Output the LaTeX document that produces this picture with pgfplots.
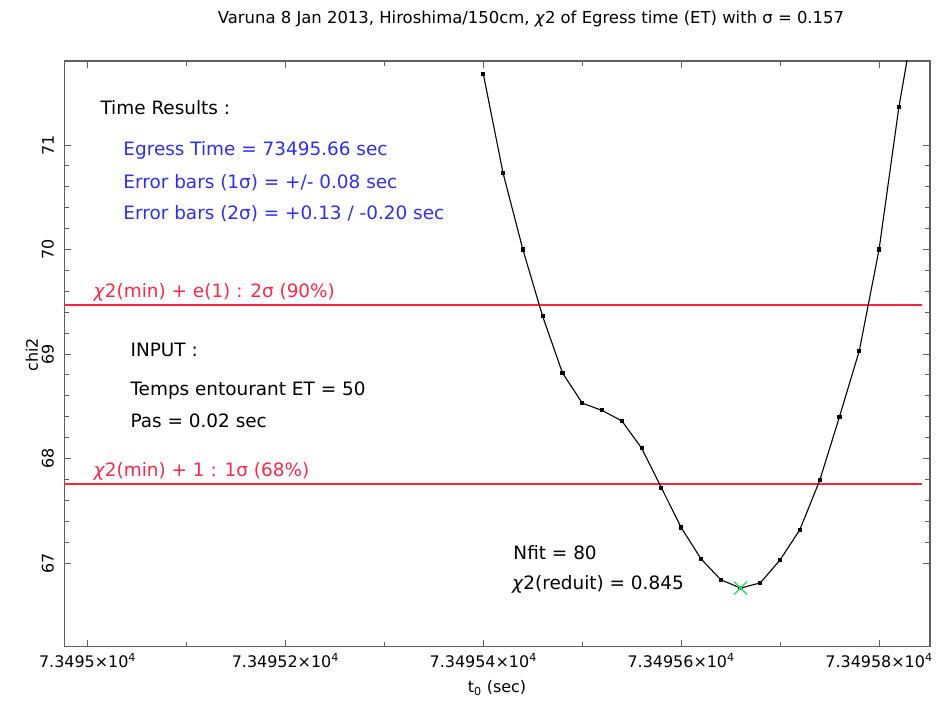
\documentclass[border=0pt]{standalone}
\usepackage{pgfplots}
\pgfplotsset{compat=1.18}
\usepackage{pgfplotstable}
\usepackage{fontspec}
\setmainfont{DejaVu Sans}
\definecolor{lred}{RGB}{255,40,70}
\definecolor{lblue}{RGB}{45,45,255}
\definecolor{lgreen}{RGB}{50,230,100}
\definecolor{axgray}{RGB}{95,95,95}
% t0 given as offset from 73495 sec
\pgfplotstableread{
dt chi
0.40 71.68
0.42 70.73
0.44 70.00
0.46 69.36
0.48 68.82
0.50 68.53
0.52 68.46
0.54 68.36
0.56 68.10
0.58 67.72
0.60 67.34
0.62 67.04
0.64 66.84
0.66 66.76
0.68 66.81
0.70 67.03
0.72 67.32
0.74 67.79
0.76 68.40
0.78 69.03
0.80 70.00
0.82 71.36
0.84 72.45
}\chidata
\pgfplotstableread{
dt chi
-0.0235 69.466
0.843 69.466
}\upperline
\pgfplotstableread{
dt chi
-0.0235 67.76
0.843 67.76
}\lowerline
\newcommand{\ann}{\fontsize{18.5}{22}\selectfont}
\begin{document}
\begin{tikzpicture}
\useasboundingbox (0,0) rectangle (945bp,712bp);
\begin{axis}[
  at={(64.3bp,65.3bp)}, anchor=south west,
  scale only axis, width=865.7bp, height=585.7bp,
  xmin=-0.0235, xmax=0.8515, ymin=66.199, ymax=71.804,
  xtick={0,0.2,0.4,0.6,0.8},
  xticklabels={7.3495×10\textsuperscript{4},7.34952×10\textsuperscript{4},7.34954×10\textsuperscript{4},7.34956×10\textsuperscript{4},7.34958×10\textsuperscript{4}},
  minor x tick num=1,
  ytick={67,68,69,70,71}, yticklabels={67,68,69,70,71},
  minor y tick num=4,
  tick align=inside,
  major tick length=7bp, minor tick length=5bp,
  axis line style={draw=axgray, line width=1.3bp},
  tick style={draw=axgray, line width=0.9bp},
  xticklabel style={font=\fontsize{16}{18}\selectfont, anchor=north},
  yticklabel style={font=\fontsize{16}{18}\selectfont, rotate=90, anchor=south},
  xticklabel shift=3bp,
  yticklabel shift=7bp,
  clip mode=individual,
]
\addplot[draw={rgb,255:red,255;green,35;blue,65}, line width=2bp, mark=none] table[x=dt, y=chi] {\upperline};
\addplot[draw={rgb,255:red,255;green,35;blue,65}, line width=2bp, mark=none] table[x=dt, y=chi] {\lowerline};
\addplot[draw=black, line width=1.1bp, mark=square*, mark size=1.5bp, mark options={fill=black}] table[x=dt, y=chi] {\chidata};
\addplot[only marks, draw={rgb,255:red,50;green,230;blue,100}, mark=x, mark size=9bp, line width=1.5bp] coordinates {(0.66,66.76)};

\node[anchor=base west, font=\ann] at (rel axis cs:0.0378,0.9095) {Time Results :};
\node[anchor=base west, font=\ann, text=lblue] at (rel axis cs:0.0643,0.8378) {Egress Time = 73495.66 sec};
\node[anchor=base west, font=\ann, text=lblue] at (rel axis cs:0.0643,0.7831) {Error bars (1σ) = +/- 0.08 sec};
\node[anchor=base west, font=\ann, text=lblue] at (rel axis cs:0.0643,0.7302) {Error bars (2σ) = +0.13 / -0.20 sec};
\node[anchor=base west, font=\ann, text=lred] at (rel axis cs:0.0297,0.5954) {\textit{χ}2(min) + e(1) : 2σ (90\%)};
\node[anchor=base west, font=\ann] at (rel axis cs:0.0725,0.4963) {INPUT :};
\node[anchor=base west, font=\ann] at (rel axis cs:0.0725,0.4281) {Temps entourant ET = 50};
\node[anchor=base west, font=\ann] at (rel axis cs:0.0725,0.3734) {Pas = 0.02 sec};
\node[anchor=base west, font=\ann, text=lred] at (rel axis cs:0.0297,0.2914) {\textit{χ}2(min) + 1 : 1σ (68\%)};
\node[anchor=base west, font=\ann] at (rel axis cs:0.5148,0.1497) {Nfit = 80};
\node[anchor=base west, font=\ann] at (rel axis cs:0.5131,0.098) {\textit{χ}2(reduit) = 0.845};

\node[anchor=base, font=\fontsize{16.5}{19}\selectfont] at (rel axis cs:0.5391,1.0632) {Varuna 8 Jan 2013, Hiroshima/150cm, \textit{χ}2 of Egress time (ET) with σ = 0.157};
\node[anchor=center, font=\fontsize{16}{18}\selectfont] at (rel axis cs:0.4998,-0.0705) {t\textsubscript{0} (sec)};
\node[anchor=center, rotate=90, font=\fontsize{16}{18}\selectfont] at (rel axis cs:-0.0373,0.498) {chi2};
\end{axis}
\end{tikzpicture}
\end{document}
